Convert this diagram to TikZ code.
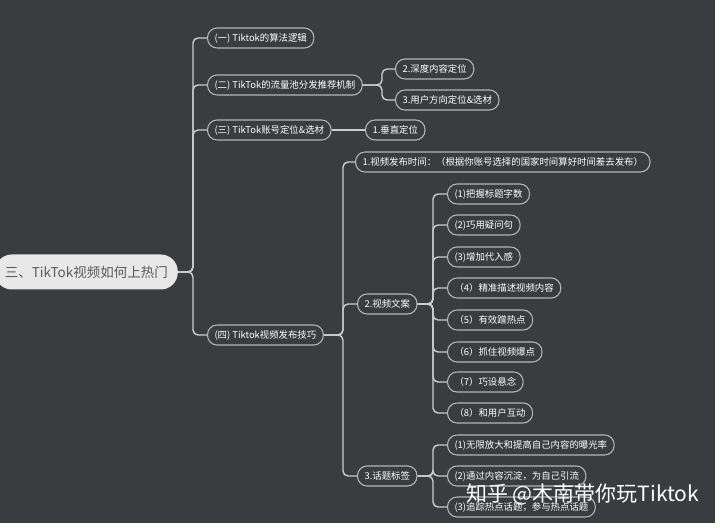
\documentclass[tikz,border=0pt]{standalone}
\usepackage{fontspec}
\newfontfamily\cjk{Noto Sans CJK SC}
\definecolor{bg}{RGB}{58,60,63}
\definecolor{linec}{RGB}{205,205,205}
\definecolor{nodeline}{RGB}{180,180,180}
\definecolor{rootfill}{RGB}{232,232,232}
\definecolor{roottext}{RGB}{90,90,90}
\begin{document}
\begin{tikzpicture}[x=1pt,y=-1pt,
  item/.style={draw=nodeline, line width=1.1pt, fill=bg, rounded corners=9.5pt,
    minimum height=20pt, inner xsep=7pt, inner ysep=0pt, text=white,
    font=\cjk\fontsize{9.4}{10}\selectfont, anchor=west},
  conn/.style={draw=linec, line width=1.4pt, rounded corners=5pt}]
\useasboundingbox (0,0) rectangle (720,529);
\fill[white] (0,0) rectangle (720,529);
\fill[bg] (0,0) rectangle (715,523);

% junction x positions
\coordinate (j0) at (193,0);
\coordinate (j2) at (382,0);
\coordinate (j4) at (343,0);
\coordinate (jw) at (433,0);

% root
\node[draw=none, fill=rootfill, rounded corners=17pt, minimum height=35pt,
  inner xsep=10pt, text=roottext, font=\cjk\fontsize{13.5}{16}\selectfont, anchor=east]
  (root) at (178,272) {三、TikTok视频如何上热门};

% level 1
\node[item] (a1) at (207,38) {(一) Tiktok的算法逻辑};
\node[item] (a2) at (207,85) {(二) TikTok的流量池分发推荐机制};
\node[item] (a3) at (207,130) {(三) TikTok账号定位\&选材};
\node[item] (a4) at (207,335) {(四) Tiktok视频发布技巧};

% level 2 under (二)
\node[item] (b1) at (395,69) {2.深度内容定位};
\node[item] (b2) at (395,100) {3.用户方向定位\&选材};
% under (三)
\node[item] (c1) at (365,130) {1.垂直定位};
% under (四)
\node[item] (d1) at (355,162) {1.视频发布时间：（根据你账号选择的国家时间算好时间差去发布）};
\node[item] (d2) at (357,304) {2.视频文案};
\node[item] (d3) at (357,476) {3.话题标签};

% under 2.视频文案
\node[item] (e1) at (447,194) {(1)把握标题字数};
\node[item] (e2) at (447,225) {(2)巧用疑问句};
\node[item] (e3) at (447,257) {(3)增加代入感};
\node[item] (e4) at (447,288) {（4）精准描述视频内容};
\node[item] (e5) at (447,320) {（5）有效蹭热点};
\node[item] (e6) at (447,352) {（6）抓住视频爆点};
\node[item] (e7) at (447,382) {（7）巧设悬念};
\node[item] (e8) at (447,413) {（8）和用户互动};

% under 3.话题标签
\node[item] (f1) at (447,445) {(1)无限放大和提高自己内容的曝光率};
\node[item] (f2) at (447,476) {(2)通过内容沉淀，为自己引流};
\node[item] (f3) at (447,507) {(3)追踪热点话题，参与热点话题};

% connectors
\foreach \c in {a1,a2,a3,a4}
  \draw[conn] (root.east) -- (root.east -| j0) |- (\c.west);
\foreach \c in {b1,b2}
  \draw[conn] (a2.east) -- (a2.east -| j2) |- (\c.west);
\draw[conn] (a3.east) -- (c1.west);
\foreach \c in {d1,d2,d3}
  \draw[conn] (a4.east) -- (a4.east -| j4) |- (\c.west);
\foreach \c in {e1,e2,e3,e4,e5,e6,e7,e8}
  \draw[conn] (d2.east) -- (d2.east -| jw) |- (\c.west);
\foreach \c in {f1,f2,f3}
  \draw[conn] (d3.east) -- (d3.east -| jw) |- (\c.west);

% watermark
\node[text=white, font=\cjk\fontsize{21}{24}\selectfont, anchor=west, inner sep=0pt]
  (wm) at (466,494) {知乎 @木南带你玩Tiktok};
\end{tikzpicture}
\end{document}
